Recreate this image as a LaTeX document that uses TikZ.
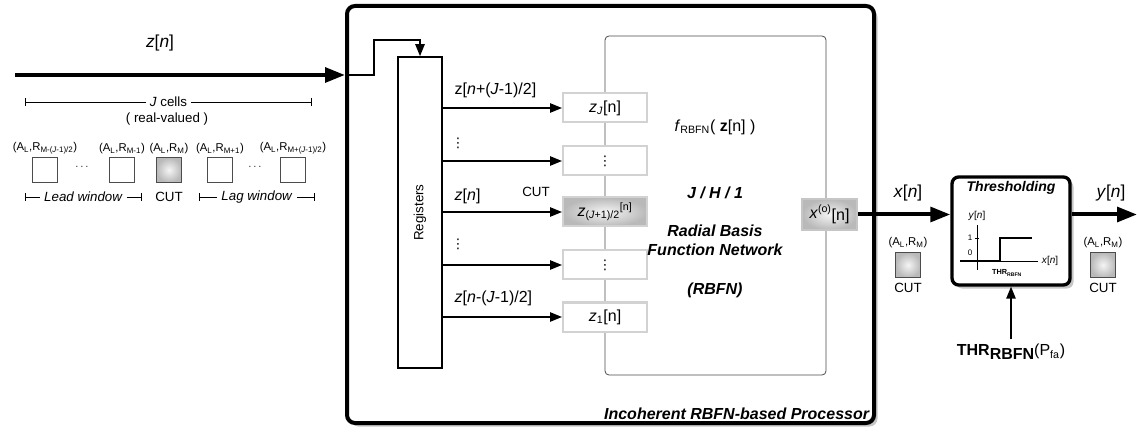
\documentclass[tikz,border=0pt]{standalone}
\usepackage{fontspec}
\setmainfont{Liberation Sans}
\newfontfamily\dejavu{DejaVu Sans}
\usetikzlibrary{arrows.meta,positioning,shadows,calc}
\newcommand\vdts{{\dejavu\fontsize{10}{12}\selectfont ⋮}}
\tikzset{big/.style={font=\fontsize{13}{15}\selectfont},lab/.style={font=\fontsize{12}{14}\selectfont},small/.style={font=\fontsize{10}{12}\selectfont},tiny/.style={font=\fontsize{8.5}{10}\selectfont},bi/.style={font=\fontsize{12}{14}\selectfont\bfseries\itshape},arr/.style={-{Triangle[length=9pt,width=7pt]},line width=1.2pt},bigarr/.style={-{Triangle[length=15pt,width=11pt]},line width=3pt},cellbox/.style={draw=gray!35,line width=1.5pt,fill=white,minimum width=63pt,minimum height=21.75pt,inner sep=0pt,lab},cutfill/.style={inner color=gray!8,outer color=gray!55},sq/.style={draw=black!70,line width=0.6pt,fill=white,minimum size=18.75pt,inner sep=0pt},bracket/.style={{Bar[width=6pt]}-{Bar[width=6pt]},line width=0.5pt}}

\begin{document}
\begin{tikzpicture}[x=0.75pt,y=-0.75pt]
\useasboundingbox (0,0) rectangle (1137,434);
% processor frame and inner blocks
\node[draw,line width=3pt,rounded corners=6pt,fill=white,drop shadow={opacity=0.45},minimum width=395.25pt,minimum height=312.75pt] (proc) at (610.5,214.5) {};
\node[bi,anchor=south east,inner sep=2pt] (proclab) at ($(proc.south east)+(-4,-2)$) {Incoherent RBFN-based Processor};
\node[draw=black!70,line width=0.6pt,rounded corners=3pt,minimum width=165.75pt,minimum height=254.25pt] (rbfn) at (715.5,205.5) {};
\node[draw,line width=1.2pt,minimum width=33pt,minimum height=233.25pt,inner sep=0pt] (reg) at (420,212.5) {};
\node[small,rotate=90] at (reg.center) {Registers};
% register outputs
\node[cellbox] (zJ) at (605,108) {\textit{z}\textsubscript{\textit{J}}[n]};
\node[cellbox] (zu) at (605,161) {\vdts};
\node[cellbox,cutfill] (zc) at (605,212) {\textit{z}\textsubscript{(\textit{J}+1)/2}\textsuperscript{[n]}};
\node[cellbox] (zd) at (605,265) {\vdts};
\node[cellbox] (z1) at (605,317) {\textit{z}\textsubscript{1}[n]};
\foreach \c in {zJ,zu,zc,zd,z1}
  \draw[arr] (reg.east |- \c) -- (\c.west);
\node[lab,anchor=west] at (450,90) {z[\textit{n}+(\textit{J}-1)/2]};
\node[lab] at (458,143) {\vdts};
\node[lab,anchor=west] at (450,196) {\textit{z}[\textit{n}]};
\node[small] at (536,192) {CUT};
\node[lab] at (458,244) {\vdts};
\node[lab,anchor=west] at (450,298) {\textit{z}[\textit{n}-(\textit{J}-1)/2]};
% RBFN texts
\node[lab] (fr) at (715,127) {\textit{f}\textsubscript{RBFN}( \textbf{z}[n] )};
\node[bi] (jh) at (715,193) {J / H / 1};
\node[bi,align=center] (rn) at (715,240) {Radial Basis\\Function Network};
\node[bi] (ab) at (715,290) {(RBFN)};
\node[draw=gray!45,line width=1.5pt,cutfill,minimum width=41.25pt,minimum height=23.25pt,inner sep=0pt,lab] (xo) at (829.5,214.5) {\textit{x}\textsuperscript{(o)}\raisebox{-2pt}{[n]}};
% input
\coordinate (zin) at (15,75);
\coordinate (entry) at (proc.west |- zin);
\draw[bigarr] (zin) -- (entry);
\node[big] at (160,43) {\textit{z}[\textit{n}]};
\draw[arr] (entry) -- ++(29,0) -- ++(0,-35) -| (reg.north);
% cell window
\draw[bracket] (25,102) -- node[fill=white,small,inner sep=3pt]{\textit{J} cells} (312,102);
\node[small] at (167,119) {( real-valued )};
\foreach \x/\n/\t in {45/c1/{M-(\textit{J}-1)/2},122/c2/{M-1},169/c3/M,220/c4/{M+1},293/c5/{M+(\textit{J}-1)/2}}
  \node[sq,label={[tiny,inner sep=2pt]above:(A\textsubscript{L},R\textsubscript{\t})}] (\n) at (\x,170) {};
\node[sq,cutfill] at (c3) {};
\node[tiny] at (82,167) {$\cdots$};
\node[tiny] at (255,167) {$\cdots$};
\draw[bracket] (25,197) -- node[fill=white,small,inner sep=3pt]{\textit{Lead window}} (142,197);
\node[small] at (169,197) {CUT};
\draw[bracket] (199,197) -- node[fill=white,small,inner sep=3pt]{\textit{Lag window}} (315,197);
% thresholding
\node[draw,line width=2.5pt,rounded corners=5pt,fill=white,drop shadow={opacity=0.45},minimum width=88.5pt,minimum height=81pt] (thr) at (1011,231) {};
\node[font=\fontsize{10.5}{12}\selectfont\bfseries\itshape] at (1011,188) {Thresholding};
\draw[line width=0.6pt] (977,225) -- (977,270);
\draw[line width=0.6pt] (960,261) -- (1038,261);
\draw[line width=0.6pt] (975,238) -- (979,238);
\draw[line width=1.2pt] (960,261) -- (1000,261) -- (1000,238) -- (1032,238);
\node[font=\fontsize{7.5}{9}\selectfont] at (977,216) {\textit{y}[\textit{n}]};
\node[font=\fontsize{6}{7}\selectfont] at (970,238) {1};
\node[font=\fontsize{6}{7}\selectfont] at (970,253) {0};
\node[font=\fontsize{7.5}{9}\selectfont] at (1050,261) {\textit{x}[\textit{n}]};
\node[font=\fontsize{5.5}{6}\selectfont\bfseries] at (1007,273) {THR\textsubscript{RBFN}};
\draw[bigarr] (xo.east) -- (thr.west |- xo.east);
\node[big] at (908,193) {\textit{x}[\textit{n}]};
\coordinate (yout) at (1137,214.5);
\draw[bigarr] (thr.east |- yout) -- (yout);
\node[big] at (1111,193) {\textit{y}[\textit{n}]};
\node[lab] (thrin) at (1011,352) {\textbf{THR}\raisebox{-3pt}{\textbf{RBFN}}(P\textsubscript{fa})};
\draw[arr] (thrin.north) -- (thr.south);
% CUT cells at both sides
\foreach \x/\n in {908/ca,1103/cb}
  \node[sq,cutfill,label={[tiny,inner sep=3pt]above:(A\textsubscript{L},R\textsubscript{M})},label={[small,inner sep=4pt]below:CUT}] (\n) at (\x,265) {};
\end{tikzpicture}
\end{document}
